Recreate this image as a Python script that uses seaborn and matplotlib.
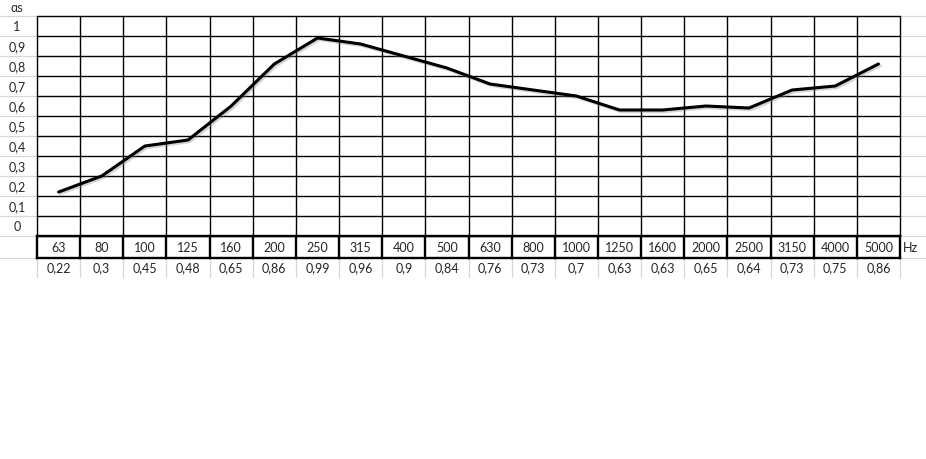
import numpy as np
import pandas as pd
import matplotlib
matplotlib.use("Agg")
import matplotlib.pyplot as plt
import matplotlib.patheffects as pe
import seaborn as sns

# ---- data ----
frequencies = ["63", "80", "100", "125", "160", "200", "250", "315", "400", "500",
               "630", "800", "1000", "1250", "1600", "2000", "2500", "3150", "4000", "5000"]
absorption = [0.22, 0.30, 0.45, 0.48, 0.65, 0.86, 0.99, 0.96, 0.90, 0.84,
              0.76, 0.73, 0.70, 0.63, 0.63, 0.65, 0.64, 0.73, 0.75, 0.86]
value_labels = ["0,22", "0,3", "0,45", "0,48", "0,65", "0,86", "0,99", "0,96", "0,9", "0,84",
                "0,76", "0,73", "0,7", "0,63", "0,63", "0,65", "0,64", "0,73", "0,75", "0,86"]
y_levels = [0.0, 0.1, 0.2, 0.3, 0.4, 0.5, 0.6, 0.7, 0.8, 0.9, 1.0]
y_labels = ["0", "0,1", "0,2", "0,3", "0,4", "0,5", "0,6", "0,7", "0,8", "0,9", "1"]

sns.set_style("white")
plt.rcParams["font.family"] = ["Lato", "DejaVu Sans"]

W, H = 926, 460
fig = plt.figure(figsize=(W / 100, H / 100), dpi=100)
ax = fig.add_axes([0, 0, 1, 1])

# pixel geometry -> data limits
x0_px, x1_px = 37, 900
col_w = (x1_px - x0_px) / 20.0
zero_px, unit_px = 237, 200.0
ax.set_xlim(-x0_px / col_w, (W - x0_px) / col_w)
ax.set_ylim((zero_px - H) / unit_px, zero_px / unit_px)
ax.axis("off")

n = len(frequencies)
top = 1.1
freq_bot = -0.11
val_bot = -0.205
light = "#d3d8df"
fs = 9

# light spreadsheet gridlines (outside the table)
for v in list(np.arange(0, 12) / 10.0) + [freq_bot]:
    ax.plot([ax.get_xlim()[0], 0], [v, v], color=light, lw=0.9, zorder=1)
    ax.plot([n, ax.get_xlim()[1]], [v, v], color=light, lw=0.9, zorder=1)
for i in range(n + 1):
    ax.plot([i, i], [freq_bot, val_bot], color=light, lw=0.9, zorder=1)

# main black grid
for i in range(n + 1):
    ax.plot([i, i], [0, top], color="black", lw=1.0, zorder=2)
for k in range(12):
    v = k / 10.0
    ax.plot([0, n], [v, v], color="black", lw=1.0, zorder=2)

# frequency row with thick borders
for i in range(n + 1):
    ax.plot([i, i], [0, freq_bot], color="black", lw=1.7, zorder=3, solid_capstyle="projecting")
for v in (0, freq_bot):
    ax.plot([0, n], [v, v], color="black", lw=1.7, zorder=3, solid_capstyle="projecting")

# texts
xc = np.arange(n) + 0.5
for i, (f, vl) in enumerate(zip(frequencies, value_labels)):
    ax.text(xc[i], freq_bot / 2, f, ha="center", va="center", fontsize=fs)
    ax.text(xc[i], (freq_bot + val_bot) / 2, vl, ha="center", va="center", fontsize=fs)
lab_x = (17 - x0_px) / col_w
for v, lab in zip(y_levels, y_labels):
    ax.text(lab_x, v + 0.05, lab, ha="center", va="center", fontsize=fs)
ax.text(lab_x, 1.145, "αs", ha="center", va="center", fontsize=fs)
ax.text(n + 0.07, freq_bot / 2, "Hz", ha="left", va="center", fontsize=fs)

# absorption curve
df = pd.DataFrame({"x": xc, "alpha": absorption})
sns.lineplot(data=df, x="x", y="alpha", ax=ax, color="black", lw=2.2, zorder=5,
             path_effects=[pe.SimpleLineShadow(offset=(1.2, -1.2), shadow_color="gray", alpha=0.35),
                           pe.Normal()])
ax.set_xlabel("")
ax.set_ylabel("")

fig.savefig("out.png", dpi=100)
